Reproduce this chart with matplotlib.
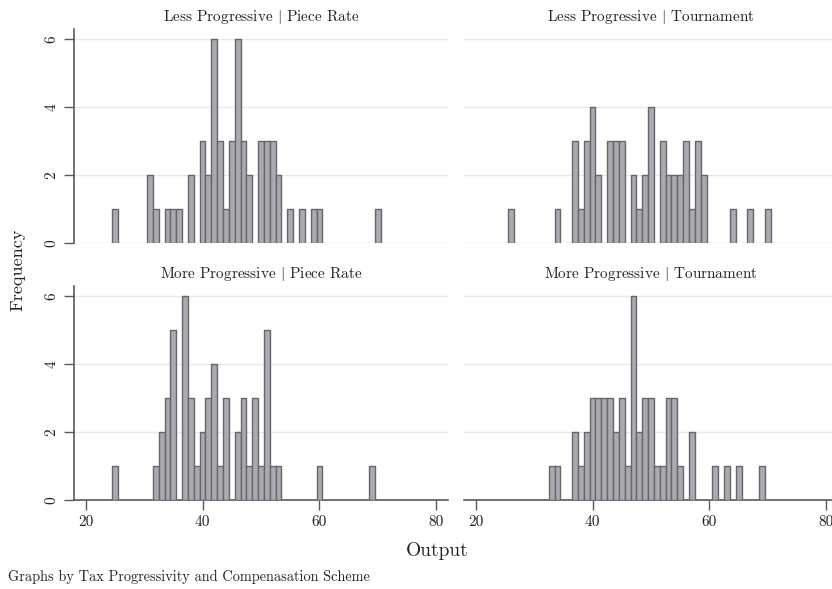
import matplotlib
matplotlib.use("Agg")
import matplotlib.pyplot as plt

plt.rcParams["font.family"] = ["cmr10", "DejaVu Serif"]
plt.rcParams["mathtext.fontset"] = "cm"
plt.rcParams["axes.formatter.use_mathtext"] = True

# output value -> count
lp_piece_x = [25, 31, 32, 34, 35, 36, 38, 40, 41, 42, 43, 44, 45, 46, 47, 48, 50, 51, 52, 53, 55, 57, 59, 60, 70]
lp_piece_n = [1, 2, 1, 1, 1, 1, 2, 3, 2, 6, 3, 1, 3, 6, 3, 2, 3, 3, 3, 2, 1, 1, 1, 1, 1]

lp_tourn_x = [26, 34, 37, 38, 39, 40, 41, 43, 44, 45, 47, 48, 49, 50, 52, 53, 54, 55, 56, 57, 58, 59, 64, 67, 70]
lp_tourn_n = [1, 1, 3, 1, 3, 4, 2, 3, 3, 3, 2, 1, 2, 4, 3, 2, 2, 2, 3, 1, 3, 2, 1, 1, 1]

mp_piece_x = [25, 32, 33, 34, 35, 37, 38, 39, 40, 41, 42, 43, 44, 46, 47, 48, 49, 50, 51, 52, 53, 60, 69]
mp_piece_n = [1, 1, 2, 3, 5, 6, 3, 1, 2, 3, 4, 1, 3, 2, 3, 1, 3, 1, 5, 1, 1, 1, 1]

mp_tourn_x = [33, 34, 37, 38, 39, 40, 41, 42, 43, 44, 45, 46, 47, 48, 49, 50, 51, 52, 53, 54, 55, 57, 61, 63, 65, 69]
mp_tourn_n = [1, 1, 2, 1, 2, 3, 3, 3, 3, 2, 3, 1, 6, 2, 3, 3, 1, 1, 3, 3, 1, 2, 1, 1, 1, 1]

titles = [
    r"Less Progressive $|$ Piece Rate",
    r"Less Progressive $|$ Tournament",
    r"More Progressive $|$ Piece Rate",
    r"More Progressive $|$ Tournament",
]
xticks = [20, 40, 60, 80]
yticks = [0, 2, 4, 6]

W, H = 832, 589
fig = plt.figure(figsize=(W / 100, H / 100), dpi=100)
fig.patch.set_facecolor("white")

# panel boxes in pixels: left, top, right, bottom
boxes = [
    (74, 29, 448, 242.7),
    (464, 29, 838, 242.7),
    (74, 286, 448, 500),
    (464, 286, 838, 500),
]
data = [(lp_piece_x, lp_piece_n), (lp_tourn_x, lp_tourn_n),
        (mp_piece_x, mp_piece_n), (mp_tourn_x, mp_tourn_n)]

axis_col = "#5a5a5a"
for i, ((l, t, r, b), (xs, ns), title) in enumerate(zip(boxes, data, titles)):
    ax = fig.add_axes([l / W, 1 - b / H, (r - l) / W, (b - t) / H])
    ax.bar(xs, ns, width=1.0, color="#aaaaaf", edgecolor="#66666c",
           linewidth=1.0, joinstyle="round", zorder=3)
    ax.set_xlim(18, 82)
    ax.set_ylim(0, 6.3)
    ax.set_yticks(yticks)
    ax.yaxis.grid(True, color="#e8e8e8", linewidth=1.0, zorder=0)
    ax.set_axisbelow(True)
    for s in ["top", "right"]:
        ax.spines[s].set_visible(False)
    left_col = i % 2 == 0
    bottom_row = i >= 2
    ax.spines["left"].set_visible(left_col)
    ax.spines["left"].set_color(axis_col)
    ax.spines["left"].set_linewidth(1.2)
    ax.spines["bottom"].set_visible(bottom_row)
    ax.spines["bottom"].set_color(axis_col)
    ax.spines["bottom"].set_linewidth(1.2)
    if left_col:
        ax.set_yticklabels([str(v) for v in yticks], rotation=90, va="center",
                           fontsize=11, color="#222222")
        ax.tick_params(axis="y", length=7, width=1.0, color=axis_col, pad=4)
    else:
        ax.tick_params(axis="y", left=False, labelleft=False)
    ax.set_xticks(xticks)
    if bottom_row:
        ax.set_xticklabels([str(v) for v in xticks], fontsize=11, color="#222222")
        ax.tick_params(axis="x", length=7, width=1.0, color=axis_col, pad=4)
    else:
        ax.tick_params(axis="x", bottom=False, labelbottom=False)
    ax.set_title(title, fontsize=11, color="#222222", pad=6)
    ax.set_facecolor("white")

fig.text(18 / W, 1 - 270 / H, "Frequency", rotation=90, ha="center", va="center",
         fontsize=13, color="#222222")
fig.text(437 / W, 1 - 551 / H, "Output", ha="center", va="center",
         fontsize=14, color="#222222")
fig.text(8 / W, 1 - 577 / H, "Graphs by Tax Progressivity and Compenasation Scheme",
         ha="left", va="center", fontsize=10.3, color="#222222")

fig.savefig("out.png", dpi=100, facecolor="white")
